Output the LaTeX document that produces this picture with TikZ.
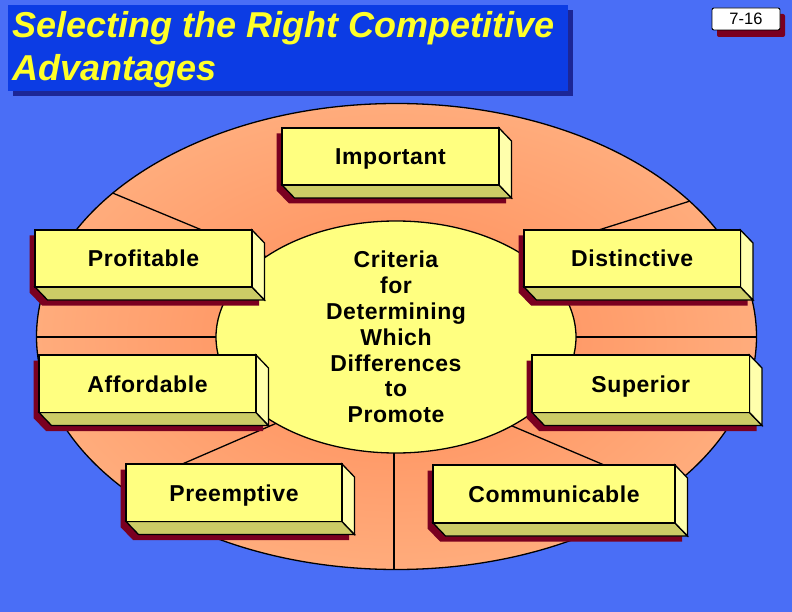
\documentclass[tikz,border=0pt]{standalone}
\usepackage{fontspec}
\setmainfont{Liberation Sans}
\newfontfamily\spacedfont[LetterSpace=2.5]{Liberation Sans}
\usetikzlibrary{shapes.geometric}
\definecolor{bgblue}{RGB}{74,110,246}
\definecolor{titleblue}{RGB}{12,60,228}
\definecolor{titleshadow}{RGB}{28,38,150}
\definecolor{titleyellow}{RGB}{255,255,40}
\definecolor{boxshadow}{RGB}{122,0,32}
\definecolor{face}{RGB}{255,255,128}
\definecolor{boxside}{RGB}{255,255,172}
\definecolor{boxbottom}{RGB}{204,204,102}
\definecolor{ringdark}{RGB}{255,138,86}
\definecolor{ringlight}{RGB}{255,172,124}
\tikzset{
  edge/.style={draw=black, line width=1.3pt, line join=miter},
  spoke/.style={draw=black, line width=1.3pt},
  boxface/.style={edge, fill=face, anchor=north west, inner sep=0pt, outer sep=0pt,
     text height=16.5pt, text depth=0pt, font=\spacedfont\fontsize{23}{26}\selectfont\bfseries},
}
\newcommand{\bevelbox}[6]{%
  \begin{scope}[shift={(#2,#3)}]
    \fill[boxshadow] (-5.5,5.5) -- (#4-5.5,5.5) -- (#4+7,18.5) -- (#4+7,#5+18.5)
       -- (7,#5+18.5) -- (-5.5,#5+5.5) -- cycle;
    \filldraw[edge, fill=boxbottom] (0,#5) -- (#4,#5) -- (#4+12.5,#5+13) -- (12.5,#5+13) -- cycle;
    \filldraw[edge, fill=boxside] (#4,0) -- (#4+12.5,13) -- (#4+12.5,#5+13) -- (#4,#5) -- cycle;
    \node[boxface, minimum width=#4pt, minimum height=#5pt] (#1) at (0,0) {#6};
  \end{scope}}
\begin{document}
\begin{tikzpicture}[x=1pt,y=-1pt]
\useasboundingbox (0,0) rectangle (792,612);
\fill[bgblue] (0,0) rectangle (792,612);
% title
\fill[titleshadow] (13,10) rectangle (573,96);
\fill[titleblue] (8,5) rectangle (568,91);
\node[anchor=north west, inner sep=0pt, align=left, text=titleyellow,
  font=\fontsize{36}{43.3}\selectfont\bfseries\itshape] (title) at (12.5,11)
  {Selecting the Right Competitive\\Advantages};
% page number
\fill[boxshadow, rounded corners=2pt] (717,14) rectangle (785,37);
\node[draw=black, fill=white, rounded corners=2pt, line width=0.9pt, inner sep=0pt,
  minimum width=68pt, minimum height=22pt, font=\fontsize{16.5}{18}\selectfont] (pagenum) at (746,19) {7-16};
% outer ring
\coordinate (ringc) at (396.5,336.5);
\draw[line width=1.3pt, inner color=ringdark, outer color=ringlight] (ringc) ellipse [x radius=360, y radius=233];
\begin{scope}
  \clip (ringc) ellipse [x radius=360, y radius=233];
  \coordinate (s1a) at (74,177);  \coordinate (s1b) at (320,279);
  \coordinate (s2a) at (20,337);  \coordinate (s2b) at (300,337);
  \coordinate (s3a) at (97,501);  \coordinate (s3b) at (323,403);
  \coordinate (s4a) at (394,300); \coordinate (s4b) at (394,600);
  \coordinate (s5a) at (465,406); \coordinate (s5b) at (689,501);
  \coordinate (s6a) at (500,337); \coordinate (s6b) at (780,337);
  \coordinate (s7a) at (728,189); \coordinate (s7b) at (441,280);
  \foreach \i in {1,...,7} { \draw[spoke] (s\i a) -- (s\i b); }
\end{scope}
% core ellipse
\node[ellipse, edge, fill=face, minimum width=360pt, minimum height=232pt, inner sep=0pt] (core) at (396,337) {};
\node[align=center, inner sep=0pt, font=\spacedfont\fontsize{23}{25.8}\selectfont\bfseries] (criteria) at (core.center)
  {Criteria\\for\\Determining\\Which\\Differences\\to\\Promote};
% boxes
\bevelbox{important}{282}{128}{217}{57}{Important}
\bevelbox{profitable}{35}{230}{217}{57}{Profitable}
\bevelbox{affordable}{39}{355}{217}{57.5}{Affordable}
\bevelbox{distinctive}{524}{230}{216.5}{57}{Distinctive}
\bevelbox{superior}{532}{355}{217.5}{57.5}{Superior}
\bevelbox{preemptive}{126}{464}{216}{57.5}{Preemptive}
\bevelbox{communicable}{433}{465}{242}{58}{Communicable}
\end{tikzpicture}
\end{document}
